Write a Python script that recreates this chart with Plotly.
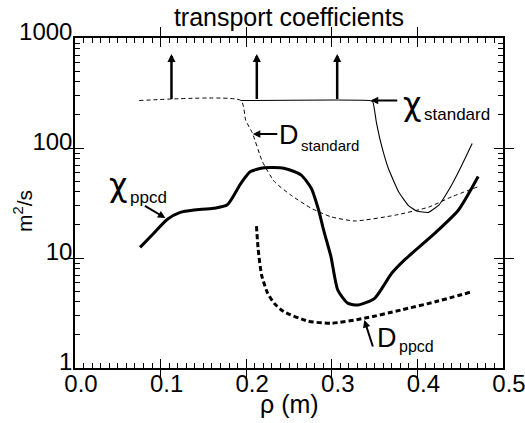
import plotly.graph_objects as go
import math

# ---------------- data ----------------
chi_std_x = [0.194, 0.344, 0.348, 0.352, 0.358, 0.366, 0.378, 0.389, 0.399, 0.413, 0.425, 0.440, 0.452, 0.464]
chi_std_y = [270, 270, 262, 173, 106, 65.4, 40.1, 30.3, 26.8, 26.0, 30.3, 46.1, 70, 110]

d_std_x = [0.075, 0.194, 0.1995, 0.207, 0.219, 0.233, 0.252, 0.276, 0.299, 0.327, 0.374, 0.413, 0.440, 0.471]
d_std_y = [270, 270, 178, 138, 75, 49.4, 37.4, 28.3, 23.7, 21.7, 24.5, 29, 36, 44.5]

chi_ppcd_x = [0.076, 0.092, 0.108, 0.123, 0.139, 0.162, 0.178, 0.194, 0.205, 0.221, 0.244, 0.264,
              0.276, 0.284, 0.291, 0.299, 0.307, 0.319, 0.331, 0.350, 0.370, 0.385, 0.4205, 0.448, 0.471]
chi_ppcd_y = [12.5, 16.8, 22.5, 26.0, 27.3, 28.3, 30.5, 48, 61, 66, 65.5, 57,
              43, 28.3, 17.3, 10.3, 5.1, 3.87, 3.74, 4.3, 7.26, 9.6, 16.8, 27.3, 55]

d_ppcd_x = [0.212, 0.214, 0.218, 0.225, 0.233, 0.244, 0.272, 0.299, 0.338, 0.381, 0.421, 0.464]
d_ppcd_y = [19.5, 12, 7, 4.8, 3.85, 3.25, 2.67, 2.55, 2.83, 3.37, 4.0, 4.94]

arrow_x = [0.1127, 0.2124, 0.3063]
arrow_base = 270
arrow_top = 716

# minor tick positions
x_minor = [round(i * 0.01, 2) for i in range(51)]
y_minor = [m * 10 ** d for d in range(3) for m in range(2, 10)]

FONT = "Liberation Sans, Arial, Helvetica, sans-serif"
GREEK = "DejaVu Sans, Liberation Sans, sans-serif"

fig = go.Figure()
fig.add_trace(go.Scatter(x=d_std_x, y=d_std_y, mode="lines",
                         line=dict(color="black", width=1, dash="4px,3px", shape="spline", smoothing=0.5)))
fig.add_trace(go.Scatter(x=chi_std_x, y=chi_std_y, mode="lines",
                         line=dict(color="black", width=1.1, shape="spline", smoothing=0.4)))
fig.add_trace(go.Scatter(x=chi_ppcd_x, y=chi_ppcd_y, mode="lines",
                         line=dict(color="black", width=3, shape="spline", smoothing=0.6)))
fig.add_trace(go.Scatter(x=d_ppcd_x, y=d_ppcd_y, mode="lines",
                         line=dict(color="black", width=3, dash="5px,3px", shape="spline", smoothing=0.6)))
# carriers for minor-tick overlay axes (no visible marks)
fig.add_trace(go.Scatter(x=[0.25], y=[10], xaxis="x2", yaxis="y", mode="markers",
                         marker=dict(opacity=0), hoverinfo="skip"))
fig.add_trace(go.Scatter(x=[0.25], y=[10], xaxis="x", yaxis="y2", mode="markers",
                         marker=dict(opacity=0), hoverinfo="skip"))

annotations = []
for ax_ in arrow_x:
    annotations.append(dict(x=ax_, y=math.log10(arrow_top), ax=ax_, ay=math.log10(arrow_base),
                            xref="x", yref="y", axref="x", ayref="y", text="",
                            showarrow=True, arrowhead=2, arrowsize=0.65, arrowwidth=2.5,
                            arrowcolor="black", standoff=0, startstandoff=0))

label_arrows = [
    (0.3455, 270, 28, 0),      # chi_standard
    (0.2077, 134, 26, 0),      # D_standard
    (0.1056, 23.1, -22, -13),  # chi_ppcd
    (0.338, 2.73, 9, 28),      # D_ppcd
]
for (x0, y0, dx, dy) in label_arrows:
    annotations.append(dict(x=x0, y=math.log10(y0), ax=dx, ay=dy, xref="x", yref="y",
                            text="", showarrow=True, arrowhead=2, arrowsize=0.75, arrowwidth=2,
                            arrowcolor="black", standoff=0))

def txt(x, y, s, size, xanchor="center", family=FONT, angle=0):
    annotations.append(dict(x=x, y=y, xref="paper", yref="paper", text=s, showarrow=False,
                            xanchor=xanchor, yanchor="middle", textangle=angle,
                            font=dict(family=family, size=size, color="black")))

txt(0.787, 0.80, "χ", 32, family=GREEK)
txt(0.811, 0.767, "standard", 17, "left")
txt(0.500, 0.706, "D", 27)
txt(0.523, 0.673, "standard", 15, "left")
txt(0.100, 0.555, "χ", 32, family=GREEK)
txt(0.124, 0.518, "ppcd", 17, "left")
txt(0.728, 0.09, "D", 27)
txt(0.752, 0.064, "ppcd", 16, "left")
txt(0.5, (368 - 404) / 330, "ρ (m)", 25)
txt((23 - 75) / 428, (368 - 211) / 330, "m<sup>2</sup>/s", 21, angle=-90)

fig.update_layout(
    template="none",
    width=525, height=423,
    margin=dict(l=75, r=22, t=38, b=55, pad=0),
    paper_bgcolor="white", plot_bgcolor="white",
    showlegend=False,
    font=dict(family=FONT, color="black", size=24),
    title=dict(text="transport coefficients", x=0.5, xref="paper", y=1 - 17 / 423,
               yref="container", xanchor="center", yanchor="middle",
               font=dict(family=FONT, size=25, color="black")),
    annotations=annotations,
    xaxis2=dict(overlaying="x", anchor="y", side="bottom", range=[0, 0.5],
                tickmode="array", tickvals=x_minor, ticks="inside", ticklen=5,
                tickwidth=1, tickcolor="black", showticklabels=False,
                showline=True, linecolor="black", linewidth=1.5, mirror="ticks",
                showgrid=False, zeroline=False, automargin=False),
    yaxis2=dict(overlaying="y", anchor="x", side="left", type="log", range=[0, 3],
                tickmode="array", tickvals=y_minor, ticks="inside", ticklen=5,
                tickwidth=1, tickcolor="black", showticklabels=False,
                showline=True, linecolor="black", linewidth=1.5, mirror="ticks",
                showgrid=False, zeroline=False, automargin=False),
)
fig.layout.xaxis.update(range=[0, 0.5], tickmode="linear", tick0=0, dtick=0.1, tickformat=".1f",
                        ticks="inside", ticklen=9, tickwidth=1, tickcolor="black",
                        showline=True, linecolor="black", linewidth=1.5, mirror="allticks",
                        showgrid=False, zeroline=False, automargin=False,
                        ticklabelshift=6, ticklabelstandoff=-7, ticklabeloverflow="allow",
                        tickfont=dict(family=FONT, size=24))
fig.layout.yaxis.update(type="log", range=[0, 3], tickmode="linear", tick0=0, dtick=1,
                        ticks="inside", ticklen=9, tickwidth=1, tickcolor="black",
                        showline=True, linecolor="black", linewidth=1.5, mirror="allticks",
                        showgrid=False, zeroline=False, automargin=False,
                        ticklabelshift=-6, ticklabelstandoff=-4, ticklabeloverflow="allow",
                        tickfont=dict(family=FONT, size=24))

fig.write_html("out.html", config={"displayModeBar": False},
               post_script="document.body.style.margin='0px';")
